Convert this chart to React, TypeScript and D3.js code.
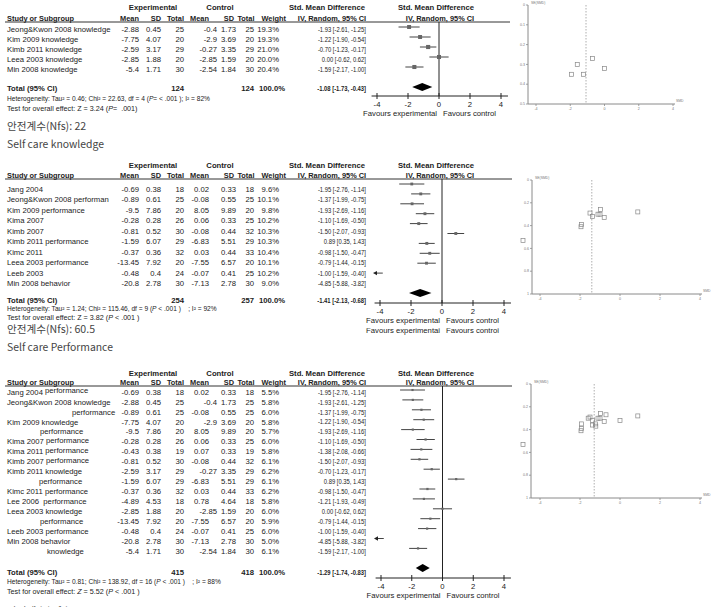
import React from "react";
import * as d3 from "d3";

/* ---------------- panel 1 : knowledge ---------------- */
const label1 = ["Jeong&Kwon 2008 knowledge", "Kim 2009 knowledge", "Kimb 2011 knowledge", "Leea 2003 knowledge", "Min 2008 knowledge"];
const expMean1 = ["-2.88", "-7.75", "-2.59", "-2.85", "-5.4"];
const expSd1 = ["0.45", "4.07", "3.17", "1.88", "1.71"];
const expN1 = [25, 20, 29, 20, 30];
const ctlMean1 = ["-0.4", "-2.9", "-0.27", "-2.85", "-2.54"];
const ctlSd1 = ["1.73", "3.69", "3.35", "1.59", "1.84"];
const ctlN1 = [25, 20, 29, 20, 30];
const weight1 = [19.3, 19.3, 21.0, 20.0, 20.4];
const smd1 = [-1.93, -1.22, -0.70, 0.00, -1.59];
const lo1 = [-2.61, -1.90, -1.23, -0.62, -2.17];
const hi1 = [-1.25, -0.54, -0.17, 0.62, -1.00];
const se1 = [0.35, 0.35, 0.27, 0.32, 0.30];
const total1 = [124, 124];
const pooled1 = [-1.08, -1.73, -0.43];
const het1 = "Heterogeneity: Tau² = 0.46; Chi² = 22.63, df = 4 (*P*= < .001 ); I² = 82%";
const test1 = "Test for overall effect: Z = 3.24 (*P*=  .001)";
const nfs1 = "안전계수(Nfs): 22";
const title1 = "Self care knowledge";

/* ---------------- panel 2 : performance ---------------- */
const label2 = ["Jang 2004", "Jeong&Kwon 2008 performan", "Kim 2009 performance", "Kima 2007", "Kimb 2007", "Kimb 2011 performance", "Kimc 2011", "Leea 2003 performance", "Leeb 2003", "Min 2008 behavior"];
const expMean2 = ["-0.69", "-0.89", "-9.5", "-0.28", "-0.81", "-1.59", "-0.37", "-13.45", "-0.48", "-20.8"];
const expSd2 = ["0.38", "0.61", "7.86", "0.28", "0.52", "6.07", "0.36", "7.92", "0.4", "2.78"];
const expN2 = [18, 25, 20, 26, 30, 29, 32, 20, 24, 30];
const ctlMean2 = ["0.02", "-0.08", "8.05", "0.06", "-0.08", "-6.83", "0.03", "-7.55", "-0.07", "-7.13"];
const ctlSd2 = ["0.33", "0.55", "9.89", "0.33", "0.44", "5.51", "0.44", "6.57", "0.41", "2.78"];
const ctlN2 = [18, 25, 20, 25, 32, 29, 33, 20, 25, 30];
const weight2 = [9.6, 10.1, 9.8, 10.2, 10.3, 10.3, 10.4, 10.1, 10.2, 9.0];
const smd2 = [-1.95, -1.37, -1.93, -1.10, -1.50, 0.89, -0.98, -0.79, -1.00, -4.85];
const lo2 = [-2.76, -1.99, -2.69, -1.69, -2.07, 0.35, -1.50, -1.44, -1.59, -5.88];
const hi2 = [-1.14, -0.75, -1.16, -0.50, -0.93, 1.43, -0.47, -0.15, -0.40, -3.82];
const se2 = [0.41, 0.32, 0.39, 0.30, 0.29, 0.28, 0.26, 0.33, 0.30, 0.53];
const total2 = [254, 257];
const pooled2 = [-1.41, -2.13, -0.68];
const het2 = "Heterogeneity: Tau² = 1.24; Chi² = 115.46, df = 9 (*P* < .001 )    ; I² = 92%";
const test2 = "Test for overall effect: Z = 3.82 (*P* < .001 )";
const nfs2 = "안전계수(Nfs): 60.5";
const title2 = "Self care Performance";

/* ---------------- panel 3 : all outcomes ---------------- */
const name3 = ["Jang 2004", "Jeong&Kwon 2008", "", "Kim 2009", "", "Kima 2007", "Kima 2011", "Kimb 2007", "Kimb 2011", "", "Kimc 2011", "Lee 2006 ", "Leea 2003", "", "Leeb 2003", "Min 2008", ""];
const outcome3 = ["performance", "knowledge", "performance", "knowledge", "performance", "performance", "performance", "performance", "knowledge", "performance", "performance", "performance", "knowledge", "performance", "performance", "behavior", "knowledge"];
const expMean3 = ["-0.69", "-2.88", "-0.89", "-7.75", "-9.5", "-0.28", "-0.43", "-0.81", "-2.59", "-1.59", "-0.37", "-4.89", "-2.85", "-13.45", "-0.48", "-20.8", "-5.4"];
const expSd3 = ["0.38", "0.45", "0.61", "4.07", "7.86", "0.28", "0.38", "0.52", "3.17", "6.07", "0.36", "4.53", "1.88", "7.92", "0.4", "2.78", "1.71"];
const expN3 = [18, 25, 25, 20, 20, 26, 19, 30, 29, 29, 32, 18, 20, 20, 24, 30, 30];
const ctlMean3 = ["0.02", "-0.4", "-0.08", "-2.9", "8.05", "0.06", "0.07", "-0.08", "-0.27", "-6.83", "0.03", "0.78", "-2.85", "-7.55", "-0.07", "-7.13", "-2.54"];
const ctlSd3 = ["0.33", "1.73", "0.55", "3.69", "9.89", "0.33", "0.33", "0.44", "3.35", "5.51", "0.44", "4.64", "1.59", "6.57", "0.41", "2.78", "1.84"];
const ctlN3 = [18, 25, 25, 20, 20, 25, 19, 32, 29, 29, 33, 18, 20, 20, 25, 30, 30];
const weight3 = [5.5, 5.8, 6.0, 5.8, 5.7, 6.0, 5.8, 6.1, 6.2, 6.1, 6.2, 5.8, 6.0, 5.9, 6.0, 5.0, 6.1];
const smd3 = [-1.95, -1.93, -1.37, -1.22, -1.93, -1.10, -1.38, -1.50, -0.70, 0.89, -0.98, -1.21, 0.00, -0.79, -1.00, -4.85, -1.59];
const lo3 = [-2.76, -2.61, -1.99, -1.90, -2.69, -1.69, -2.08, -2.07, -1.23, 0.35, -1.50, -1.93, -0.62, -1.44, -1.59, -5.88, -2.17];
const hi3 = [-1.14, -1.25, -0.75, -0.54, -1.16, -0.50, -0.66, -0.93, -0.17, 1.43, -0.47, -0.49, 0.62, -0.15, -0.40, -3.82, -1.00];
const se3 = [0.41, 0.35, 0.32, 0.35, 0.39, 0.30, 0.36, 0.29, 0.27, 0.28, 0.26, 0.37, 0.32, 0.33, 0.30, 0.53, 0.30];
const total3 = [415, 418];
const pooled3 = [-1.29, -1.74, -0.83];
const het3 = "Heterogeneity: Tau² = 0.81; Chi² = 138.92, df = 16 (*P* < .001 )    ; I² = 88%";
const test3 = "Test for overall effect: *Z* = 5.52 (*P* < .001 )";
const nfs3 = "안전계수(Nfs): 65.4";

// row label layout for panel 3 (continuation rows are indented, some outcomes sit a bit higher)
const indent3 = [0, 0, 72, 0, 40, 0, 0, 0, 0, 39, 0, 0, 0, 40, 0, 0, 47];
const raise3 = [1.5, 0, 0, 0, 0, 1.5, 1.5, 1.5, 0, 0, 0, 0, 0, 0, 0, 0, 0];

const forestTicks = [-4, -2, 0, 2, 4];
const funnelTicks = [-4, -2, 0, 2, 4];
const seTicks1 = [0, 0.1, 0.2, 0.3, 0.4, 0.5];
const seTicks23 = [0, 0.2, 0.4, 0.6, 0.8, 1];

const FONT = "'Liberation Sans', Arial, sans-serif";
const KFONT = "'Noto Sans CJK KR', 'Noto Sans', sans-serif";
const INK = "#222";

type Row = {
  name: string; outcome: string; indent: number; raise: number;
  em: string; es: string; en: number; cm: string; cs: string; cn: number;
  w: number; smd: number; lo: number; hi: number; se: number;
};

function rowsOf(names: string[], outcomes: string[], indent: number[], raise: number[],
  em: string[], es: string[], en: number[], cm: string[], cs: string[], cn: number[],
  w: number[], smd: number[], lo: number[], hi: number[], se: number[]): Row[] {
  return names.map((n, i) => ({
    name: n, outcome: outcomes[i], indent: indent[i], raise: raise[i],
    em: em[i], es: es[i], en: en[i], cm: cm[i], cs: cs[i], cn: cn[i],
    w: w[i], smd: smd[i], lo: lo[i], hi: hi[i], se: se[i],
  }));
}

const zeros = (n: number) => new Array(n).fill(0);
const blanks = (n: number) => new Array(n).fill("");

const rows1 = rowsOf(label1, blanks(5), zeros(5), zeros(5), expMean1, expSd1, expN1, ctlMean1, ctlSd1, ctlN1, weight1, smd1, lo1, hi1, se1);
const rows2 = rowsOf(label2, blanks(10), zeros(10), zeros(10), expMean2, expSd2, expN2, ctlMean2, ctlSd2, ctlN2, weight2, smd2, lo2, hi2, se2);
const rows3 = rowsOf(name3, outcome3, indent3, raise3, expMean3, expSd3, expN3, ctlMean3, ctlSd3, ctlN3, weight3, smd3, lo3, hi3, se3);

/* text with *italic* parts */
function Rich({ s }: { s: string }) {
  return <>{s.split("*").map((p, i) => i % 2 ? <tspan key={i} fontStyle="italic">{p}</tspan> : <tspan key={i}>{p}</tspan>)}</>;
}

type Layout = {
  head1: number; head2: number; line: number; lineEnd: number;
  row0: number; rowStep: number; totalY: number; hetY: number; testY: number;
  plot0: number; plotStep: number; diamondY: number; axisY: number; forest: [number, number];
  nfsY: number; titleY?: number; ghost?: number;
  fun: { xr: [number, number]; ax: number; right: number; top: number; bot: number; seMax: number; ticks: number[] };
};

const L1: Layout = {
  head1: 7, head2: 18, line: 22, lineEnd: 510, row0: 29, rowStep: 10, totalY: 88.5, hetY: 98.5, testY: 108,
  plot0: 27, plotStep: 10, diamondY: 87, axisY: 96, forest: [377, 501], nfsY: 126, titleY: 144,
  fun: { xr: [536, 673], ax: 528, right: 675, top: 5, bot: 104, seMax: 0.5, ticks: seTicks1 },
};
const L2: Layout = {
  head1: 165, head2: 175, line: 179, lineEnd: 512, row0: 189, rowStep: 10.5, totalY: 300, hetY: 308.5, testY: 317.5,
  plot0: 184, plotStep: 9.9, diamondY: 293, axisY: 303, forest: [380, 504], nfsY: 329, titleY: 347, ghost: 330,
  fun: { xr: [540, 700], ax: 532, right: 702, top: 180, bot: 294, seMax: 1, ticks: seTicks23 },
};
const L3: Layout = {
  head1: 373, head2: 382, line: 386, lineEnd: 512, row0: 392, rowStep: 9.94, totalY: 572, hetY: 582, testY: 591,
  plot0: 390, plotStep: 9.9, diamondY: 568, axisY: 578, forest: [381, 504], nfsY: 611,
  fun: { xr: [540, 700], ax: 531, right: 702, top: 384, bot: 498, seMax: 1, ticks: seTicks23 },
};

const fmt2 = (v: number) => v.toFixed(2);
const ciText = (m: number, a: number, b: number) => `${fmt2(m)} [${fmt2(a)}, ${fmt2(b)}]`;
const CI_RIGHT = 366;
const CI_SQUEEZE = 0.76;

function Panel({ rows, lay, total, pooled, het, test, nfs, title, id }: {
  rows: Row[]; lay: Layout; total: number[]; pooled: number[]; het: string; test: string;
  nfs: string; title?: string; id: string;
}) {
  const x = d3.scaleLinear().domain([-4, 4]).range(lay.forest);
  const ry = (i: number) => lay.row0 + i * lay.rowStep;
  const py = (i: number) => lay.plot0 + i * lay.plotStep;
  const t = { fontFamily: FONT, fontSize: 7.7, fill: INK } as const;
  const x0 = x(0);

  const fx = d3.scaleLinear().domain([-4, 4]).range(lay.fun.xr);
  const fy = d3.scaleLinear().domain([0, lay.fun.seMax]).range([lay.fun.top, lay.fun.bot]);
  const g = "#8a8a8a";

  const favours = (y: number) => (
    <>
      <text x={x0 - 2} y={y} dy="0.35em" textAnchor="end" {...t}>Favours experimental</text>
      <text x={x0 + 4} y={y} dy="0.35em" {...t}>Favours control</text>
    </>
  );

  return (
    <g>
      {/* header */}
      <g {...t} fontWeight="bold">
        <text x={153} y={lay.head1} dy="0.35em" textAnchor="middle">Experimental</text>
        <text x={220} y={lay.head1} dy="0.35em" textAnchor="middle">Control</text>
        <text x={327} y={lay.head1} dy="0.35em" textAnchor="middle">Std. Mean Difference</text>
        <text x={436} y={lay.head1} dy="0.35em" textAnchor="middle">Std. Mean Difference</text>
      </g>
      <g {...t} fontSize={7.4} fontWeight="bold">
        <text x={7} y={lay.head2} dy="0.35em">Study or Subgroup</text>
        <text x={139} y={lay.head2} dy="0.35em" textAnchor="end">Mean</text>
        <text x={161} y={lay.head2} dy="0.35em" textAnchor="end">SD</text>
        <text x={184} y={lay.head2} dy="0.35em" textAnchor="end">Total</text>
        <text x={209} y={lay.head2} dy="0.35em" textAnchor="end">Mean</text>
        <text x={234} y={lay.head2} dy="0.35em" textAnchor="end">SD</text>
        <text x={254.5} y={lay.head2} dy="0.35em" textAnchor="end">Total</text>
        <text x={286} y={lay.head2} dy="0.35em" textAnchor="end">Weight</text>
        <text x={332} y={lay.head2} dy="0.35em" textAnchor="middle">IV, Random, 95% CI</text>
        <text x={440} y={lay.head2} dy="0.35em" textAnchor="middle">IV, Random, 95% CI</text>
      </g>
      <line x1={5} x2={lay.lineEnd} y1={lay.line} y2={lay.line} stroke="#333" strokeWidth={1} />

      {/* study rows */}
      {rows.map((r, i) => {
        const y = ry(i);
        const know = (r.name + r.outcome).includes("knowledge");
        return (
          <g key={i} {...t}>
            {r.name === "" && r.outcome !== "" ? (
              <text x={r.indent} y={y} dy="0.35em">{r.outcome}</text>
            ) : (
              <text x={7} y={y} dy="0.35em" style={{ whiteSpace: "pre" }}>
                {r.name}
                {r.outcome !== "" && <tspan dy={-r.raise}>{" " + r.outcome}</tspan>}
              </text>
            )}
            <text x={139} y={y} dy="0.35em" textAnchor="end">{r.em}</text>
            <text x={161} y={y} dy="0.35em" textAnchor="end">{r.es}</text>
            <text x={184} y={y} dy="0.35em" textAnchor="end">{r.en}</text>
            <text x={know ? 217 : 209} y={y} dy="0.35em" textAnchor="end">{r.cm}</text>
            <text x={236} y={y} dy="0.35em" textAnchor="end">{r.cs}</text>
            <text x={254} y={y} dy="0.35em" textAnchor="end">{r.cn}</text>
            <text x={279} y={y} dy="0.35em" textAnchor="end">{r.w.toFixed(1) + "%"}</text>
            <g transform={`translate(${CI_RIGHT},0) scale(${CI_SQUEEZE},1)`}>
              <text x={0} y={y} dy="0.35em" textAnchor="end">{ciText(r.smd, r.lo, r.hi)}</text>
            </g>
          </g>
        );
      })}

      {/* total */}
      <g {...t} fontWeight="bold">
        <text x={7} y={lay.totalY} dy="0.35em">Total (95% CI)</text>
        <text x={184} y={lay.totalY} dy="0.35em" textAnchor="end">{total[0]}</text>
        <text x={254} y={lay.totalY} dy="0.35em" textAnchor="end">{total[1]}</text>
        <text x={285} y={lay.totalY} dy="0.35em" textAnchor="end">100.0%</text>
        <g transform={`translate(${CI_RIGHT},0) scale(${CI_SQUEEZE},1)`}>
          <text x={0} y={lay.totalY} dy="0.35em" textAnchor="end">{ciText(pooled[0], pooled[1], pooled[2])}</text>
        </g>
      </g>
      <text x={7} y={lay.hetY} dy="0.35em" fontFamily={FONT} fontSize={6.6} fill={INK} style={{ whiteSpace: "pre" }}><Rich s={het} /></text>
      <text x={7} y={lay.testY} dy="0.35em" fontFamily={FONT} fontSize={7.2} fill={INK} style={{ whiteSpace: "pre" }}><Rich s={test} /></text>

      {/* forest plot */}
      <line x1={x0} x2={x0} y1={lay.line} y2={lay.axisY} stroke="#222" strokeWidth={1} />
      {rows.map((r, i) => {
        const y = py(i);
        const lo = Math.max(r.lo, -4);
        const hi = Math.min(r.hi, 4);
        const s = Math.sqrt(r.w) * 0.9;
        const clipped = r.lo < -4;
        return (
          <g key={i}>
            <line x1={clipped ? x(-4) - 4 : x(lo)} x2={x(hi)} y1={y} y2={y} stroke="#444" strokeWidth={1} />
            {clipped && <path d={`M${x(-4) - 7},${y}L${x(-4) - 3},${y - 2.2}L${x(-4) - 3},${y + 2.2}Z`} fill="#222" />}
            {r.smd >= -4 && <rect x={x(r.smd) - s / 2} y={y - s / 2} width={s} height={s} fill="#666" />}
          </g>
        );
      })}
      <path
        d={`M${x(pooled[1])},${lay.diamondY}L${x(pooled[0])},${lay.diamondY - 4}L${x(pooled[2])},${lay.diamondY}L${x(pooled[0])},${lay.diamondY + 4}Z`}
        fill="#000"
      />
      <line x1={x(-4.35)} x2={x(4.45)} y1={lay.axisY} y2={lay.axisY} stroke="#222" strokeWidth={1} />
      {forestTicks.map(v => (
        <g key={v}>
          <line x1={x(v)} x2={x(v)} y1={lay.axisY - 3} y2={lay.axisY + 3} stroke="#222" strokeWidth={1} />
          <text x={x(v)} y={lay.axisY + 8} dy="0.35em" textAnchor="middle" {...t}>{v}</text>
        </g>
      ))}
      {favours(lay.axisY + 17)}
      {lay.ghost !== undefined && (
        <g clipPath={`url(#ghost-${id})`}>
          <clipPath id={`ghost-${id}`}>
            <rect x={360} y={lay.ghost - 1.8} width={160} height={10} />
          </clipPath>
          {favours(lay.ghost)}
        </g>
      )}

      {/* safety number and section title */}
      <text x={7} y={lay.nfsY} dy="0.35em" fontFamily={KFONT} fontSize={10.6} fill="#444">{nfs}</text>
      {title && <text x={7} y={lay.titleY} dy="0.35em" fontFamily={KFONT} fontSize={10.4} fill="#444">{title}</text>}

      {/* funnel plot */}
      <g>
        <line x1={lay.fun.ax} x2={lay.fun.ax} y1={lay.fun.top} y2={lay.fun.bot} stroke={g} strokeWidth={1} />
        <line x1={lay.fun.ax} x2={lay.fun.right} y1={lay.fun.bot} y2={lay.fun.bot} stroke={g} strokeWidth={1} />
        {lay.fun.ticks.map(v => (
          <g key={v}>
            <line x1={lay.fun.ax - 2} x2={lay.fun.ax} y1={fy(v)} y2={fy(v)} stroke={g} strokeWidth={0.8} />
            <text x={lay.fun.ax - 3} y={fy(v)} dy="0.35em" textAnchor="end" fontFamily={FONT} fontSize={3.6} fill="#777">{v}</text>
          </g>
        ))}
        {funnelTicks.map(v => (
          <g key={v}>
            <line x1={fx(v)} x2={fx(v)} y1={lay.fun.bot} y2={lay.fun.bot + 2} stroke={g} strokeWidth={0.8} />
            <text x={fx(v)} y={lay.fun.bot + 5} dy="0.35em" textAnchor="middle" fontFamily={FONT} fontSize={3.6} fill="#777">{v}</text>
          </g>
        ))}
        <text x={lay.fun.ax + 3} y={lay.fun.top - 1} fontFamily={FONT} fontSize={3.4} fill="#777">SE(SMD)</text>
        <text x={lay.fun.right + 1} y={lay.fun.bot - 2} fontFamily={FONT} fontSize={3.4} fill="#777">SMD</text>
        <line x1={fx(pooled[0])} x2={fx(pooled[0])} y1={lay.fun.top} y2={lay.fun.bot} stroke="#999" strokeWidth={0.8} strokeDasharray="1.5,1.5" />
        {rows.map((r, i) => (
          <rect key={i} x={fx(r.smd) - 2} y={fy(r.se) - 2} width={4} height={4} fill="none" stroke="#888" strokeWidth={0.7} />
        ))}
      </g>
    </g>
  );
}

export default function App() {
  return (
    <svg width={711} height={607} style={{ position: "absolute", left: 0, top: 0, background: "#fff" }}>
      <rect width={711} height={607} fill="#fff" />
      <Panel id="p1" rows={rows1} lay={L1} total={total1} pooled={pooled1} het={het1} test={test1} nfs={nfs1} title={title1} />
      <Panel id="p2" rows={rows2} lay={L2} total={total2} pooled={pooled2} het={het2} test={test2} nfs={nfs2} title={title2} />
      <Panel id="p3" rows={rows3} lay={L3} total={total3} pooled={pooled3} het={het3} test={test3} nfs={nfs3} />
    </svg>
  );
}
